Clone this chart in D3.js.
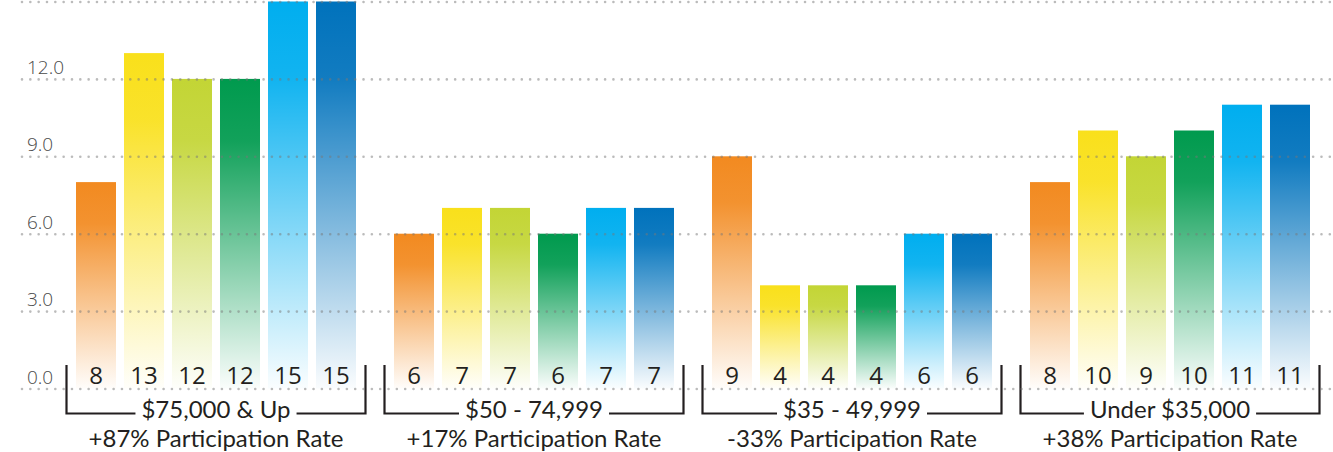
<!DOCTYPE html>
<html>
<head>
<meta charset="utf-8">
<script src="https://cdn.jsdelivr.net/npm/d3@7/dist/d3.min.js"></script>
<style>
  html, body { margin: 0; padding: 0; background: #fff; }
  svg { display: block; }
</style>
</head>
<body>
<svg id="chart" width="1333" height="452"></svg>
<script>
// ---- data ----
const groups = ["$75,000 & Up", "$50 - 74,999", "$35 - 49,999", "Under $35,000"];
const rates = ["+87% Participation Rate", "+17% Participation Rate", "-33% Participation Rate", "+38% Participation Rate"];
const seriesKeys = ["s1", "s2", "s3", "s4", "s5", "s6"];
const seriesColors = ["#F28A20", "#F9E01B", "#C3D535", "#009A4E", "#00AEEF", "#0072BC"];
const values75Up = [8, 13, 12, 12, 15, 15];
const values50to75 = [6, 7, 7, 6, 7, 7];
const values35to50 = [9, 4, 4, 4, 6, 6];
const valuesUnder35 = [8, 10, 9, 10, 11, 11];
const groupValues = [values75Up, values50to75, values35to50, valuesUnder35];
const yTicks = [0, 3, 6, 9, 12, 15];
const yTickLabels = ["0.0", "3.0", "6.0", "9.0", "12.0", ""];

// ---- chart ----
const svg = d3.select("#chart");
const FONT = "'Open Sans', 'Noto Sans', sans-serif";
const LABEL_FONT = "Lato, 'Open Sans', sans-serif";

const y = d3.scaleLinear().domain([0, 15]).range([388.5, 1.5]);
const x0 = d3.scaleBand().domain(groups).range([76, 1310]).paddingInner(38 / 318).paddingOuter(0);
const x1 = d3.scaleBand().domain(seriesKeys).range([0, x0.bandwidth()]).paddingInner(8 / 48).paddingOuter(0);

const defs = svg.append("defs");
seriesKeys.forEach((k, i) => {
  const g = defs.append("linearGradient").attr("id", "grad-" + k)
    .attr("x1", 0).attr("y1", 0).attr("x2", 0).attr("y2", 1);
  g.append("stop").attr("offset", "0%").attr("stop-color", seriesColors[i]).attr("stop-opacity", 1);
  g.append("stop").attr("offset", "20%").attr("stop-color", seriesColors[i]).attr("stop-opacity", 0.93);
  g.append("stop").attr("offset", "100%").attr("stop-color", seriesColors[i]).attr("stop-opacity", 0.02);
});

// bars
const gGroups = svg.append("g").selectAll("g.grp")
  .data(groups.map((name, gi) => ({ name, gi, vals: groupValues[gi] })))
  .join("g").attr("class", "grp")
  .attr("transform", d => `translate(${x0(d.name)},0)`);

gGroups.selectAll("rect")
  .data(d => d.vals.map((v, i) => ({ key: seriesKeys[i], v })))
  .join("rect")
  .attr("x", d => x1(d.key))
  .attr("y", d => y(d.v))
  .attr("width", x1.bandwidth())
  .attr("height", d => y(0) - y(d.v))
  .attr("fill", d => `url(#grad-${d.key})`);

// grid lines (dotted, drawn on top)
const yAxis = d3.axisLeft(y).tickValues(yTicks).tickSize(-(1333 - 22)).tickFormat((d, i) => yTickLabels[i]);
const ga = svg.append("g").attr("transform", "translate(22,0)").call(yAxis);
ga.select(".domain").remove();
ga.selectAll(".tick line")
  .attr("stroke", "#777").attr("stroke-opacity", 0.5)
  .attr("stroke-width", 2.6).attr("stroke-linecap", "round")
  .attr("stroke-dasharray", "0 8.33");
ga.selectAll(".tick text")
  .attr("x", 5).attr("dy", -5.5).attr("text-anchor", "start")
  .attr("font-family", FONT).attr("font-weight", 300)
  .attr("font-size", 19).attr("fill", "#4a4a4a");

// value labels
gGroups.selectAll("text.val")
  .data(d => d.vals.map((v, i) => ({ key: seriesKeys[i], v })))
  .join("text").attr("class", "val")
  .attr("x", d => x1(d.key) + x1.bandwidth() / 2)
  .attr("y", 384)
  .attr("text-anchor", "middle")
  .attr("font-family", FONT).attr("font-size", 24)
  .attr("fill", "#231F20")
  .text(d => d.v);

// brackets + group labels
const bracketTop = 365, bracketBottom = 413.5;
gGroups.each(function (d) {
  const g = d3.select(this);
  const left = -9.5, right = x0.bandwidth() + 9.5, cx = x0.bandwidth() / 2;
  const t1 = g.append("text")
    .attr("x", cx).attr("y", 418)
    .attr("text-anchor", "middle")
    .attr("font-family", LABEL_FONT).attr("font-size", 24)
    .attr("fill", "#231F20")
    .text(d.name);
  g.append("text")
    .attr("x", cx).attr("y", 447.2)
    .attr("text-anchor", "middle")
    .attr("font-family", LABEL_FONT).attr("font-size", 24)
    .attr("fill", "#231F20")
    .text(rates[d.gi]);
  const w = t1.node().getComputedTextLength();
  const gap = 6;
  const path = d3.path();
  path.moveTo(cx - w / 2 - gap, bracketBottom);
  path.lineTo(left, bracketBottom);
  path.lineTo(left, bracketTop);
  path.moveTo(cx + w / 2 + gap, bracketBottom);
  path.lineTo(right, bracketBottom);
  path.lineTo(right, bracketTop);
  g.append("path").attr("d", path.toString())
    .attr("fill", "none").attr("stroke", "#231F20").attr("stroke-width", 2.2);
});
</script>
</body>
</html>
